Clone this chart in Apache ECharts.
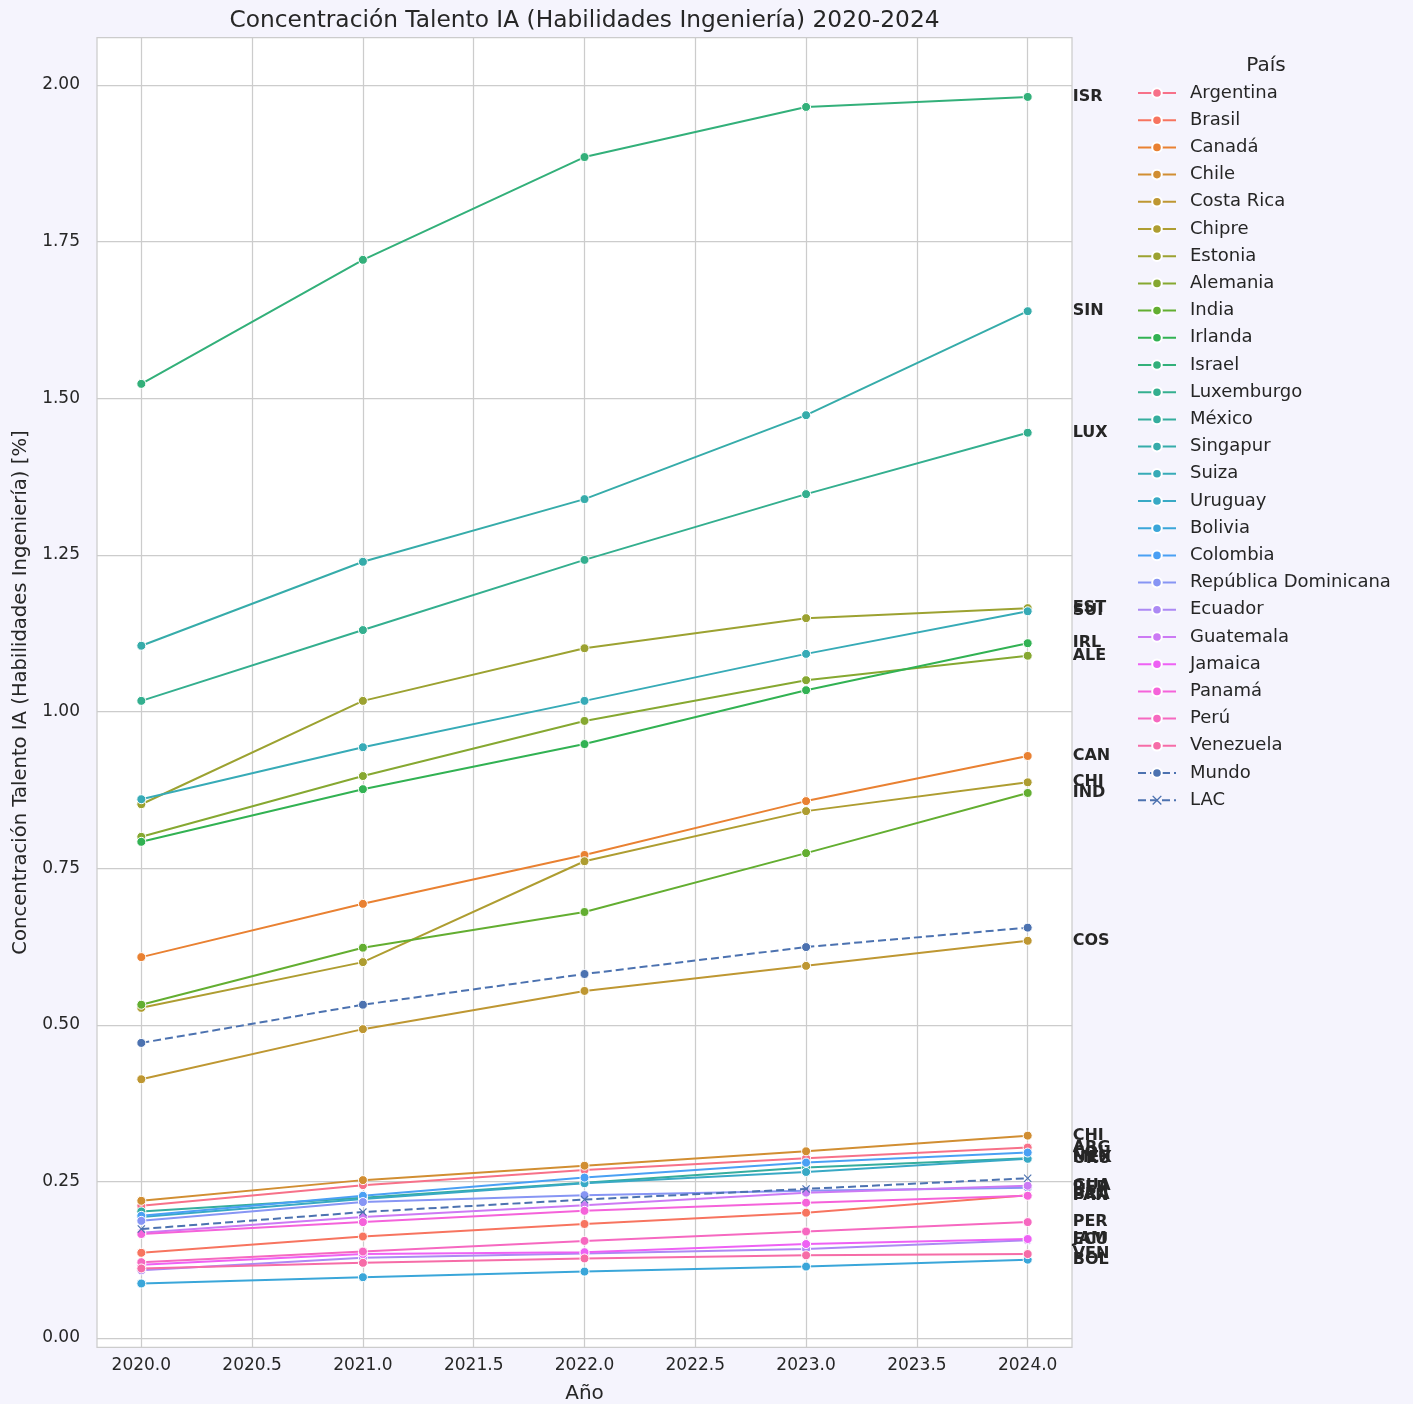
<!DOCTYPE html>
<html>
<head>
<meta charset="utf-8">
<script src="https://cdn.jsdelivr.net/npm/echarts@6/dist/echarts.min.js"></script>
<style>
html,body{margin:0;padding:0;background:#f5f4fd;}
#chart{width:1413px;height:1404px;}
</style>
</head>
<body>
<div id="chart"></div>
<script>
// ---- Data ----
const years = [2020, 2021, 2022, 2023, 2024];
const countries = ['Argentina','Brasil','Canadá','Chile','Costa Rica','Chipre','Estonia','Alemania','India','Irlanda','Israel','Luxemburgo','México','Singapur','Suiza','Uruguay','Bolivia','Colombia','República Dominicana','Ecuador','Guatemala','Jamaica','Panamá','Perú','Venezuela'];
const argentina = [0.211, 0.244, 0.268, 0.287, 0.304];
const brasil = [0.136, 0.162, 0.182, 0.200, 0.228];
const canada = [0.608, 0.693, 0.771, 0.857, 0.929];
const chile = [0.219, 0.252, 0.275, 0.298, 0.323];
const costaRica = [0.413, 0.493, 0.554, 0.594, 0.634];
const chipre = [0.527, 0.600, 0.761, 0.841, 0.887];
const estonia = [0.852, 1.017, 1.101, 1.149, 1.165];
const alemania = [0.800, 0.897, 0.985, 1.050, 1.089];
const india = [0.532, 0.623, 0.680, 0.774, 0.870];
const irlanda = [0.792, 0.876, 0.948, 1.034, 1.109];
const israel = [1.523, 1.721, 1.885, 1.965, 1.981];
const luxemburgo = [1.017, 1.130, 1.242, 1.347, 1.445];
const mexico = [0.202, 0.224, 0.248, 0.272, 0.287];
const singapur = [1.105, 1.239, 1.339, 1.473, 1.639];
const suiza = [0.860, 0.943, 1.017, 1.092, 1.160];
const uruguay = [0.193, 0.222, 0.247, 0.265, 0.286];
const bolivia = [0.087, 0.097, 0.106, 0.114, 0.125];
const colombia = [0.195, 0.227, 0.256, 0.280, 0.296];
const repDominicana = [0.187, 0.217, 0.228, 0.235, 0.240];
const ecuador = [0.108, 0.128, 0.135, 0.142, 0.156];
const guatemala = [0.168, 0.193, 0.212, 0.232, 0.243];
const jamaica = [0.117, 0.134, 0.137, 0.150, 0.158];
const panama = [0.166, 0.185, 0.203, 0.216, 0.227];
const peru = [0.121, 0.138, 0.155, 0.170, 0.185];
const venezuela = [0.111, 0.120, 0.127, 0.132, 0.134];
const mundo = [0.471, 0.532, 0.581, 0.624, 0.655];
const lac = [0.174, 0.201, 0.221, 0.238, 0.255];
const countryValues = [argentina, brasil, canada, chile, costaRica, chipre, estonia, alemania, india, irlanda, israel, luxemburgo, mexico, singapur, suiza, uruguay, bolivia, colombia, repDominicana, ecuador, guatemala, jamaica, panama, peru, venezuela];
const xTicks = [2020, 2020.5, 2021, 2021.5, 2022, 2022.5, 2023, 2023.5, 2024];
const yTicks = [0, 0.25, 0.5, 0.75, 1.0, 1.25, 1.5, 1.75, 2.0];

// ---- HUSL palette (seaborn husl_palette) ----
const M = [[3.240969941904521,-1.537383177570093,-0.498610760293],[-0.96924363628087,1.87596750150772,0.041555057407175],[0.055630079696993,-0.20397695888897,1.056971514242878]];
const refU = 0.19783000664283, refV = 0.46831999493879, kappa = 903.2962962, eps = 0.0088564516;
function bounds(L){
  const res = []; const sub1 = Math.pow(L+16,3)/1560896; const sub2 = sub1 > eps ? sub1 : L/kappa;
  for (const [m1,m2,m3] of M) for (const t of [0,1]) {
    const top1 = (284517*m1 - 94839*m3)*sub2;
    const top2 = (838422*m3 + 769860*m2 + 731718*m1)*L*sub2 - 769860*t*L;
    const bottom = (632260*m3 - 126452*m2)*sub2 + 126452*t;
    res.push([top1/bottom, top2/bottom]);
  }
  return res;
}
function maxC(L,H){
  const hr = H/360*Math.PI*2; let mn = Infinity;
  for (const [s,i] of bounds(L)) { const len = i/(Math.sin(hr) - s*Math.cos(hr)); if (len >= 0) mn = Math.min(mn, len); }
  return mn;
}
function huslToHex(H,S,L){
  const C = maxC(L,H)/100*S; const hr = H/360*Math.PI*2;
  const U = Math.cos(hr)*C, V = Math.sin(hr)*C;
  const varU = U/(13*L) + refU, varV = V/(13*L) + refV;
  const Y = L <= 8 ? L/kappa : Math.pow((L+16)/116, 3);
  const X = -(9*Y*varU)/((varU-4)*varV - varU*varV);
  const Z = (9*Y - 15*varV*Y - varV*X)/(3*varV);
  return '#' + M.map(r => {
    let c = r[0]*X + r[1]*Y + r[2]*Z;
    c = c <= 0.0031308 ? 12.92*c : 1.055*Math.pow(c, 1/2.4) - 0.055;
    c = Math.max(0, Math.min(1, c));
    return Math.round(c*255).toString(16).padStart(2,'0');
  }).join('');
}
function huslPalette(n){
  const out = [];
  for (let i = 0; i < n; i++) { const h = ((i/n + 0.01) % 1) * 359; out.push(huslToHex(h, 0.9*99, 0.65*99)); }
  return out;
}
const palette = huslPalette(countries.length);
const refColor = '#4c72b0';
const FONT = 'DejaVu Sans';
const TXT = '#262626';

function abbr(name){ return name.slice(0,3).toUpperCase(); }
function pairs(vals){ return years.map((y,i) => [y, vals[i]]); }

const xShape = 'path://M1,0 L5,4 L9,0 L10,1 L6,5 L10,9 L9,10 L5,6 L1,10 L0,9 L4,5 L0,1 Z';

const series = countries.map((name, k) => ({
  type: 'line', name: name, data: pairs(countryValues[k]),
  symbol: 'circle', symbolSize: 9, showSymbol: true,
  lineStyle: { width: 2, color: palette[k] },
  itemStyle: { color: palette[k], borderColor: '#ffffff', borderWidth: 1 },
  endLabel: { show: true, formatter: abbr(name), distance: 45, fontFamily: FONT, fontWeight: 'bold', fontSize: 16, color: TXT },
  emphasis: { disabled: true }, animation: false, z: 2
}));
series.push({
  type: 'line', name: 'Mundo', data: pairs(mundo),
  symbol: 'circle', symbolSize: 9,
  lineStyle: { width: 2, color: refColor, type: [8, 4] },
  itemStyle: { color: refColor, borderColor: '#ffffff', borderWidth: 1 },
  emphasis: { disabled: true }, animation: false, z: 3
});
series.push({
  type: 'line', name: 'LAC', data: pairs(lac),
  symbol: xShape, symbolSize: 8,
  lineStyle: { width: 2, color: refColor, type: [8, 4] },
  itemStyle: { color: refColor },
  emphasis: { disabled: true }, animation: false, z: 3
});

const chart = echarts.init(document.getElementById('chart'), null, { renderer: 'canvas' });
chart.setOption({
  backgroundColor: '#f5f4fd',
  animation: false,
  title: [
    { text: 'Concentración Talento IA (Habilidades Ingeniería) 2020-2024', left: 579.5, top: 4, textAlign: 'center',
      textStyle: { fontFamily: FONT, fontSize: 23.3, fontWeight: 'normal', color: TXT } },
    { text: 'País', left: 1261, top: 51, textAlign: 'center',
      textStyle: { fontFamily: FONT, fontSize: 20, fontWeight: 'normal', color: TXT } }
  ],
  legend: {
    orient: 'vertical', left: 1137, top: 83, padding: 0,
    itemWidth: 38, itemHeight: 12, itemGap: 7.2,
    textStyle: { fontFamily: FONT, fontSize: 18, lineHeight: 20, color: TXT, padding: [0,0,0,9] },
    data: countries.concat(['Mundo', 'LAC'])
  },
  grid: { left: 97, right: 341, top: 37.6, bottom: 56.6, show: true, backgroundColor: '#ffffff', borderColor: '#cccccc', borderWidth: 1.25, containLabel: false, outerBoundsMode: 'none' },
  xAxis: {
    type: 'value', min: 2019.8, max: 2024.2,
    name: 'Año', nameLocation: 'middle', nameGap: 36,
    nameTextStyle: { fontFamily: FONT, fontSize: 20, color: TXT },
    axisLine: { show: false }, axisTick: { show: false, customValues: xTicks },
    axisLabel: { customValues: xTicks, formatter: v => v.toFixed(1), fontFamily: FONT, fontSize: 17, color: TXT, margin: 10 },
    splitLine: { show: true, lineStyle: { color: '#cccccc', width: 1.25 } }
  },
  yAxis: {
    type: 'value', min: -0.015, max: 2.0757,
    name: 'Concentración Talento IA (Habilidades Ingeniería) [%]', nameLocation: 'middle', nameGap: 65, nameRotate: 90,
    nameTextStyle: { fontFamily: FONT, fontSize: 19.6, color: TXT },
    axisLine: { show: false }, axisTick: { show: false, customValues: yTicks },
    axisLabel: { customValues: yTicks, formatter: v => v.toFixed(2), fontFamily: FONT, fontSize: 17, color: TXT, margin: 17 },
    splitLine: { show: true, lineStyle: { color: '#cccccc', width: 1.25 } }
  },
  series: series
});
</script>
</body>
</html>
